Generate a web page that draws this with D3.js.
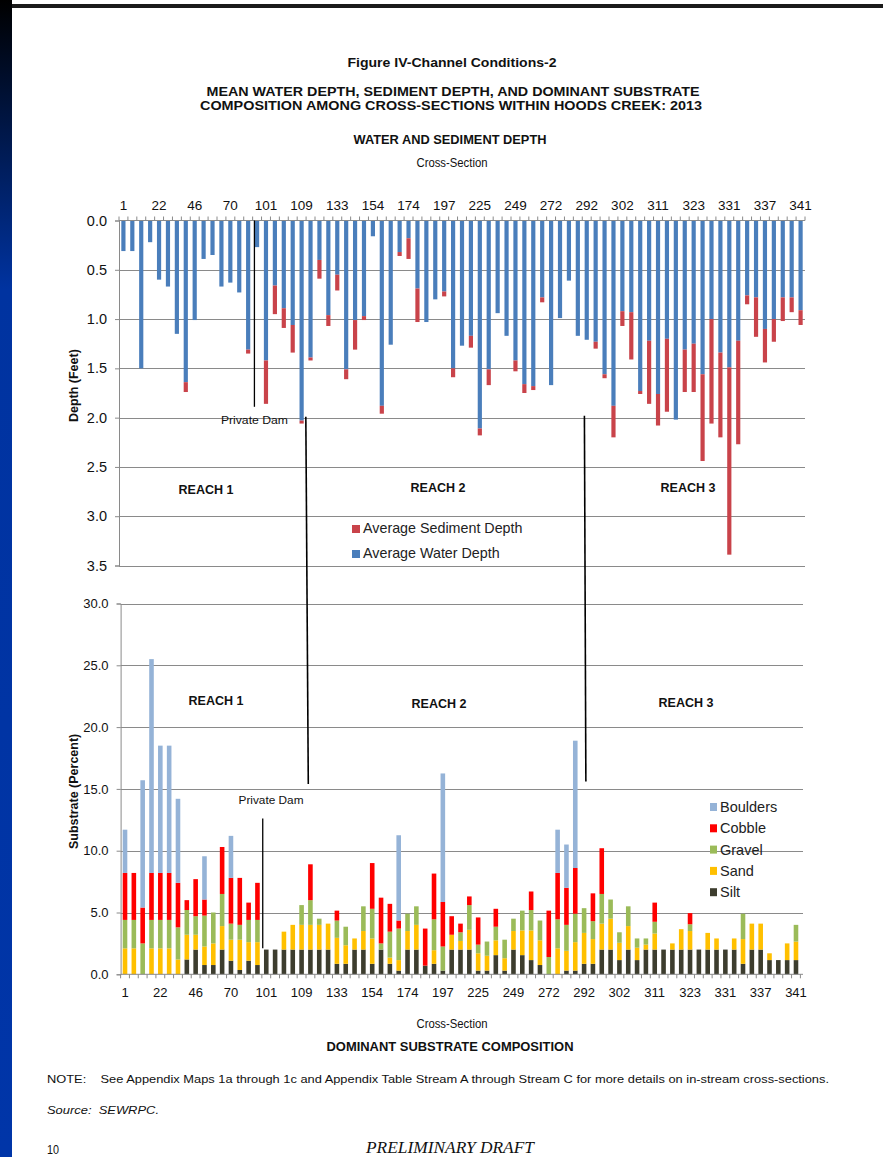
<!DOCTYPE html>
<html>
<head>
<meta charset="utf-8">
<script src="https://cdn.jsdelivr.net/npm/d3@7"></script>
<style>
  html, body { margin: 0; padding: 0; background: #fff; }
  svg { display: block; }
  text.keep { white-space: pre; }
</style>
</head>
<body>
<svg id="page" width="883" height="1157"></svg>
<script>
// ---- Cross-section tick labels (every fourth surveyed cross-section is labelled)
const sectionLabels = [1, 22, 46, 70, 101, 109, 133, 154, 174, 197, 225, 249, 272, 292, 302, 311, 323, 331, 337, 341];
const sectionCount = 77;
const labelEvery = 4;

// ---- Water and sediment depth (feet), one value per cross-section
const waterDepth = [
  0.31, 0.31, 1.50, 0.22, 0.60, 0.67, 1.15, 1.64, 1.01, 0.39,
  0.35, 0.67, 0.63, 0.73, 1.31, 0.27, 1.42, 0.66, 0.89, 1.06,
  2.03, 1.39, 0.40, 0.96, 0.55, 1.51, 1.01, 0.97, 0.16, 1.88,
  1.26, 0.32, 0.18, 0.69, 1.03, 0.80, 0.72, 1.50, 1.27, 1.17,
  2.11, 1.51, 0.94, 1.17, 1.42, 1.66, 1.68, 0.78, 1.67, 0.99,
  0.61, 1.17, 1.21, 1.23, 1.56, 1.88, 0.92, 0.93, 1.73, 1.22,
  1.76, 1.20, 2.02, 1.31, 1.25, 1.56, 1.00, 1.34, 1.49, 1.22,
  0.76, 0.78, 1.10, 1.00, 0.78, 0.78, 0.91
];
const sedimentDepth = [
  0, 0, 0, 0, 0, 0, 0, 0.10, 0, 0,
  0, 0, 0, 0, 0.04, 0, 0.44, 0.29, 0.20, 0.28,
  0.03, 0.03, 0.19, 0.11, 0.16, 0.10, 0.30, 0.04, 0, 0.08,
  0, 0.04, 0.21, 0.34, 0, 0, 0.05, 0.09, 0, 0.12,
  0.07, 0.16, 0, 0, 0.11, 0.09, 0.04, 0.05, 0, 0,
  0, 0, 0, 0.07, 0.04, 0.32, 0.15, 0.48, 0.03, 0.64,
  0.32, 0.74, 0, 0.43, 0.49, 0.88, 1.06, 0.86, 1.90, 1.05,
  0.09, 0.40, 0.34, 0.23, 0.24, 0.15, 0.15
];

// ---- Dominant substrate composition (percent), stacked bottom to top
const silt = [
  0, 0, 0, 0, 0, 0, 0, 1.2, 2.0, 0.75,
  0.75, 2.0, 1.1, 0.35, 1.1, 0.75, 2.0, 2.0, 2.0, 2.0,
  2.0, 2.0, 2.0, 2.0, 0.85, 0.85, 2.0, 2.0, 0.85, 2.0,
  0.85, 0.3, 2.0, 2.0, 0.7, 0.85, 0.3, 2.0, 2.0, 2.0,
  0.3, 0.3, 1.55, 0.3, 2.0, 1.55, 1.15, 0.75, 0, 0,
  0.3, 0.3, 0.85, 0.85, 2.0, 2.0, 1.15, 2.0, 1.15, 2.0,
  2.0, 2.0, 2.0, 2.0, 2.0, 2.0, 2.0, 2.0, 2.0, 2.0,
  0.85, 2.0, 2.0, 1.15, 1.15, 1.15, 1.15
];
const sand = [
  2.1, 2.1, 0, 2.1, 2.1, 2.1, 1.2, 2.0, 1.2, 1.5,
  1.75, 1.9, 1.7, 2.45, 1.5, 1.85, 0, 0, 1.45, 2.0,
  2.0, 2.0, 2.0, 2.1, 2.1, 1.5, 0.9, 1.5, 2.05, 0,
  0.5, 0.85, 1.5, 2.0, 0, 1.1, 0, 1.2, 0.7, 1.6,
  1.4, 1.2, 1.2, 1.0, 1.5, 2.0, 2.4, 2.0, 0, 2.1,
  1.6, 2.3, 2.5, 2.0, 2.1, 2.5, 1.4, 1.9, 1.0, 0.4,
  1.3, 0, 0.5, 1.65, 1.5, 0, 1.35, 0.9, 0, 0.9,
  2.0, 2.1, 2.1, 0.55, 0, 1.35, 1.5
];
const gravel = [
  2.3, 2.3, 2.5, 2.3, 2.3, 2.3, 2.6, 2.0, 1.5, 2.5,
  2.5, 2.6, 1.3, 1.2, 1.8, 1.8, 0, 0, 0, 0,
  1.6, 2.0, 0.5, 0, 1.4, 1.5, 0, 2.0, 2.4, 0.5,
  2.1, 2.55, 1.4, 1.5, 0, 2.5, 1.95, 0, 0.7, 2.0,
  0.7, 1.15, 1.1, 1.5, 1.0, 1.6, 1.65, 1.6, 1.4, 2.35,
  2.1, 2.3, 2.0, 1.45, 2.4, 1.55, 0.85, 1.6, 0.75, 0.5,
  0.95, 0, 0, 0, 0.55, 0, 0, 0, 0, 0,
  2.05, 0, 0, 0, 0, 0, 1.35
];
const cobble = [
  3.8, 3.8, 2.9, 3.8, 3.8, 3.8, 3.6, 0.8, 3.0, 1.3,
  0, 3.8, 3.7, 3.8, 1.4, 3.0, 0, 0, 0, 0,
  0, 2.9, 0, 0, 0.8, 0, 0, 0, 3.7, 3.7,
  2.25, 0.65, 0, 0, 3.0, 3.7, 3.6, 1.5, 0.7, 0.7,
  2.2, 0, 1.45, 0, 0, 0, 1.5, 0, 3.75, 3.75,
  3.0, 3.7, 0, 2.25, 3.7, 0, 0, 0, 0, 0,
  1.55, 0, 0, 0, 0.9, 0, 0, 0, 0, 0,
  0, 0, 0, 0, 0, 0, 0
];
const boulders = [
  3.5, 0, 10.3, 17.3, 10.3, 10.3, 6.8, 0, 0, 3.5,
  0, 0, 3.4, 0, 0, 0, 0, 0, 0, 0,
  0, 0, 0, 0, 0, 0, 0, 0, 0, 0,
  0, 6.9, 0, 0, 0, 0, 10.4, 0, 0, 0,
  0, 0, 0, 0, 0, 0, 0, 0, 0, 3.5,
  3.5, 10.3, 0, 0, 0, 0, 0, 0, 0, 0,
  0, 0, 0, 0, 0, 0, 0, 0, 0, 0,
  0, 0, 0, 0, 0, 0, 0
];

// ---- Series names and colours
const depthSeries = [
  { key: "water", name: "Average Water Depth", color: "#4a7ebb", values: waterDepth },
  { key: "sediment", name: "Average Sediment Depth", color: "#c9434a", values: sedimentDepth }
];
const substrateSeries = [
  { key: "silt", name: "Silt", color: "#3d3d2e", values: silt },
  { key: "sand", name: "Sand", color: "#ffc000", values: sand },
  { key: "gravel", name: "Gravel", color: "#9bbb59", values: gravel },
  { key: "cobble", name: "Cobble", color: "#ff0000", values: cobble },
  { key: "boulders", name: "Boulders", color: "#95b3d7", values: boulders }
];

// ---- Reach dividers and dam markers (positions in cross-section index units)
const damTop = { at: 14.7, to: 1.89 };
const damBottom = { at: 15.6, from: 2.1, to: 12.6 };
const reachDividers = [
  { topAt: 20.47, topDepth: 1.99, bottomAt: 20.76, bottomValue: 15.4 },
  { topAt: 51.74, topDepth: 1.98, bottomAt: 52.2, bottomValue: 15.6 }
];

const svg = d3.select("#page");
const NARROW = "'Liberation Sans Narrow', 'Arial Narrow', 'Liberation Sans', Arial, sans-serif";
const SANS = "'Liberation Sans', Arial, sans-serif";
const GRID = "#8a8a8a";

// ---- Page frame
const defs = svg.append("defs");
const grad = defs.append("linearGradient").attr("id", "edge").attr("x1", 0).attr("y1", 0).attr("x2", 0).attr("y2", 1);
grad.append("stop").attr("offset", 0).attr("stop-color", "#000000");
grad.append("stop").attr("offset", 0.25).attr("stop-color", "#0033a0");
grad.append("stop").attr("offset", 1).attr("stop-color", "#0035a8");
svg.append("rect").attr("x", 0).attr("y", 0).attr("width", 12).attr("height", 1157).attr("fill", "url(#edge)");
svg.append("rect").attr("x", 12).attr("y", 4).attr("width", 871).attr("height", 4).attr("fill", "#1a1a1a");

function pageText(txt, x, y, opts) {
  const t = svg.append("text").attr("class", "keep").attr("x", x).attr("y", y).text(txt)
    .attr("font-family", opts.family || NARROW)
    .attr("font-size", opts.size || 12)
    .attr("font-weight", opts.bold ? "bold" : "normal")
    .attr("font-style", opts.italic ? "italic" : "normal")
    .attr("text-anchor", opts.anchor || "middle")
    .attr("fill", opts.color || "#111");
  if (opts.len) t.attr("textLength", opts.len).attr("lengthAdjust", "spacingAndGlyphs");
  return t;
}

// ---- Headings
pageText("Figure IV-Channel Conditions-2", 452, 67, { size: 13, bold: true, len: 209 });
pageText("MEAN WATER DEPTH, SEDIMENT DEPTH, AND DOMINANT SUBSTRATE", 453, 96, { size: 13, bold: true, len: 493 });
pageText("COMPOSITION AMONG CROSS-SECTIONS WITHIN HOODS CREEK: 2013", 451, 110, { size: 13, bold: true, len: 502 });
pageText("WATER AND SEDIMENT DEPTH", 450, 144, { size: 12, bold: true, len: 193 });
pageText("Cross-Section", 452, 167, { size: 12, len: 71 });

// ================= Depth chart =================
const xTop = d3.scaleBand().domain(d3.range(sectionCount)).range([119, 805]).paddingInner(0.53).paddingOuter(0.26);
const xTopIdx = d3.scaleLinear().domain([-0.5, sectionCount - 0.5]).range([119, 805]);
const yTop = d3.scaleLinear().domain([0, 3.5]).range([220.5, 565.5]);

const gTop = svg.append("g");
// gridlines
gTop.append("g").selectAll("line").data(d3.range(0.5, 3.51, 0.5)).join("line")
  .attr("x1", 119).attr("x2", 805)
  .attr("y1", d => Math.round(yTop(d)) + 0.5).attr("y2", d => Math.round(yTop(d)) + 0.5)
  .attr("stroke", GRID).attr("stroke-width", 1);

// stacked depth bars, hanging down from the surface
const depthRows = d3.range(sectionCount).map(i => ({ i, water: waterDepth[i], sediment: sedimentDepth[i] }));
const depthStack = d3.stack().keys(depthSeries.map(s => s.key))(depthRows);
gTop.append("g").selectAll("g").data(depthStack).join("g")
  .attr("fill", (d, k) => depthSeries[k].color)
  .selectAll("rect").data(d => d.filter(p => p[1] > p[0])).join("rect")
  .attr("x", p => xTop(p.data.i))
  .attr("width", xTop.bandwidth())
  .attr("y", p => yTop(p[0]))
  .attr("height", p => yTop(p[1]) - yTop(p[0]));

// top category axis
const axTop = d3.axisTop(xTop)
  .tickValues(d3.range(0, sectionCount, labelEvery))
  .tickFormat((d, k) => sectionLabels[k])
  .tickSize(0).tickPadding(11);
const gAxTop = gTop.append("g").attr("transform", `translate(0,${yTop(0)})`).call(axTop);
gAxTop.select(".domain").remove();
gAxTop.selectAll("text").attr("font-family", SANS).attr("font-size", 13.5).attr("fill", "#111");
gTop.append("line").attr("x1", 119).attr("x2", 805).attr("y1", yTop(0)).attr("y2", yTop(0)).attr("stroke", GRID);
gTop.append("g").selectAll("line").data(d3.range(sectionCount + 1)).join("line")
  .attr("x1", d => xTopIdx(d - 0.5)).attr("x2", d => xTopIdx(d - 0.5))
  .attr("y1", yTop(0) - 4).attr("y2", yTop(0))
  .attr("stroke", GRID);

// depth axis
const axLeftTop = d3.axisLeft(yTop).tickValues(d3.range(0, 3.51, 0.5)).tickFormat(d3.format(".1f")).tickSize(4).tickPadding(8);
const gAxLeftTop = gTop.append("g").attr("transform", "translate(119,0)").call(axLeftTop);
gAxLeftTop.select(".domain").attr("stroke", GRID);
gAxLeftTop.selectAll(".tick line").attr("stroke", GRID);
gAxLeftTop.selectAll("text").attr("font-family", SANS).attr("font-size", 14.5).attr("fill", "#111");
gTop.append("text").attr("transform", `translate(78,${(yTop(1.25) + yTop(2.1)) / 2}) rotate(-90)`)
  .attr("text-anchor", "middle").attr("font-family", SANS).attr("font-weight", "bold").attr("font-size", 12.5)
  .attr("fill", "#111").text("Depth (Feet)");

// dam marker
gTop.append("line")
  .attr("x1", xTopIdx(damTop.at)).attr("x2", xTopIdx(damTop.at))
  .attr("y1", yTop(0)).attr("y2", yTop(damTop.to))
  .attr("stroke", "#000").attr("stroke-width", 1.3);
pageText("Private Dam", xTopIdx(damTop.at), yTop(2.06), { family: NARROW, size: 11.5, len: 67 });

// reach names
pageText("REACH 1", 206, 494, { family: SANS, size: 12.5, bold: true });
pageText("REACH 2", 438, 492, { family: SANS, size: 12.5, bold: true });
pageText("REACH 3", 688, 492, { family: SANS, size: 12.5, bold: true });

// depth legend (sediment listed first)
const legTop = gTop.append("g").selectAll("g").data([depthSeries[1], depthSeries[0]]).join("g")
  .attr("transform", (d, k) => `translate(352,${525 + k * 25})`);
legTop.append("rect").attr("width", 8).attr("height", 8).attr("fill", d => d.color);
legTop.append("text").attr("x", 11).attr("y", 8).attr("font-family", SANS).attr("font-size", 14.3)
  .attr("fill", "#222").text(d => d.name);

// ================= Substrate chart =================
const xBot = d3.scaleBand().domain(d3.range(sectionCount)).range([120.6, 800.4]).paddingInner(0.48).paddingOuter(0.24);
const xBotIdx = d3.scaleLinear().domain([-0.5, sectionCount - 0.5]).range([120.6, 800.4]);
const yBot = d3.scaleLinear().domain([0, 30]).range([974.3, 603.5]);

const gBot = svg.append("g");
gBot.append("g").selectAll("line").data(d3.range(5, 30.1, 5)).join("line")
  .attr("x1", 120.6).attr("x2", 803)
  .attr("y1", d => Math.round(yBot(d)) + 0.5).attr("y2", d => Math.round(yBot(d)) + 0.5)
  .attr("stroke", GRID).attr("stroke-width", 1);

const subRows = d3.range(sectionCount).map(i => {
  const r = { i };
  substrateSeries.forEach(s => { r[s.key] = s.values[i]; });
  return r;
});
const subStack = d3.stack().keys(substrateSeries.map(s => s.key))(subRows);
gBot.append("g").selectAll("g").data(subStack).join("g")
  .attr("fill", (d, k) => substrateSeries[k].color)
  .selectAll("rect").data(d => d.filter(p => p[1] > p[0])).join("rect")
  .attr("x", p => xBot(p.data.i))
  .attr("width", xBot.bandwidth())
  .attr("y", p => yBot(p[1]))
  .attr("height", p => yBot(p[0]) - yBot(p[1]));

// bottom category axis
const axBot = d3.axisBottom(xBot)
  .tickValues(d3.range(0, sectionCount, labelEvery))
  .tickFormat((d, k) => sectionLabels[k])
  .tickSize(0).tickPadding(13);
const gAxBot = gBot.append("g").attr("transform", `translate(0,${yBot(0)})`).call(axBot);
gAxBot.select(".domain").remove();
gAxBot.selectAll("text").attr("font-family", SANS).attr("font-size", 13).attr("fill", "#111");
gBot.append("line").attr("x1", 120.6).attr("x2", 803).attr("y1", yBot(0)).attr("y2", yBot(0)).attr("stroke", GRID);
gBot.append("g").selectAll("line").data(d3.range(sectionCount + 1)).join("line")
  .attr("x1", d => xBotIdx(d - 0.5)).attr("x2", d => xBotIdx(d - 0.5))
  .attr("y1", yBot(0)).attr("y2", yBot(0) + 4)
  .attr("stroke", GRID);

const axLeftBot = d3.axisLeft(yBot).tickValues(d3.range(0, 30.1, 5)).tickFormat(d3.format(".1f")).tickSize(4).tickPadding(8);
const gAxLeftBot = gBot.append("g").attr("transform", "translate(120.6,0)").call(axLeftBot);
gAxLeftBot.select(".domain").attr("stroke", GRID);
gAxLeftBot.selectAll(".tick line").attr("stroke", GRID);
gAxLeftBot.selectAll("text").attr("font-family", SANS).attr("font-size", 13).attr("fill", "#111");
gBot.append("text").attr("transform", `translate(78,${yBot(14.8)}) rotate(-90)`)
  .attr("text-anchor", "middle").attr("font-family", SANS).attr("font-weight", "bold").attr("font-size", 12.5)
  .attr("fill", "#111").text("Substrate (Percent)");

// dam marker
gBot.append("line")
  .attr("x1", xBotIdx(damBottom.at)).attr("x2", xBotIdx(damBottom.at))
  .attr("y1", yBot(damBottom.from)).attr("y2", yBot(damBottom.to))
  .attr("stroke", "#000").attr("stroke-width", 1.3);
pageText("Private Dam", 271, 804, { family: NARROW, size: 11.5, len: 65 });

pageText("REACH 1", 216, 705, { family: SANS, size: 12.5, bold: true });
pageText("REACH 2", 439, 708, { family: SANS, size: 12.5, bold: true });
pageText("REACH 3", 686, 707, { family: SANS, size: 12.5, bold: true });

// substrate legend, top of stack first
const legBot = gBot.append("g").selectAll("g").data(substrateSeries.slice().reverse()).join("g")
  .attr("transform", (d, k) => `translate(710,${802 + k * 21.3})`);
legBot.append("rect").attr("width", 7).attr("height", 8).attr("y", 1).attr("fill", d => d.color);
legBot.append("text").attr("x", 10).attr("y", 10).attr("font-family", SANS).attr("font-size", 14.5)
  .attr("fill", "#222").text(d => d.name);

// reach dividers crossing both charts
svg.append("g").selectAll("line").data(reachDividers).join("line")
  .attr("x1", d => xTopIdx(d.topAt)).attr("y1", d => yTop(d.topDepth))
  .attr("x2", d => xBotIdx(d.bottomAt)).attr("y2", d => yBot(d.bottomValue))
  .attr("stroke", "#000").attr("stroke-width", 1.6);

// ---- Footer
pageText("Cross-Section", 452, 1028, { size: 12, len: 71 });
pageText("DOMINANT SUBSTRATE COMPOSITION", 450, 1051, { size: 12, bold: true, len: 247 });
pageText("NOTE:    See Appendix Maps 1a through 1c and Appendix Table Stream A through Stream C for more details on in-stream cross-sections.",
  47, 1083, { size: 11.5, anchor: "start", len: 782 });
pageText("Source:  SEWRPC.", 47, 1114, { size: 11.5, italic: true, anchor: "start", len: 112 });
pageText("10", 47, 1154, { size: 12, anchor: "start", len: 12 });
pageText("PRELIMINARY DRAFT", 450, 1153, { family: "'Liberation Serif', 'Times New Roman', serif", size: 16, italic: true, len: 168 });
</script>
</body>
</html>
